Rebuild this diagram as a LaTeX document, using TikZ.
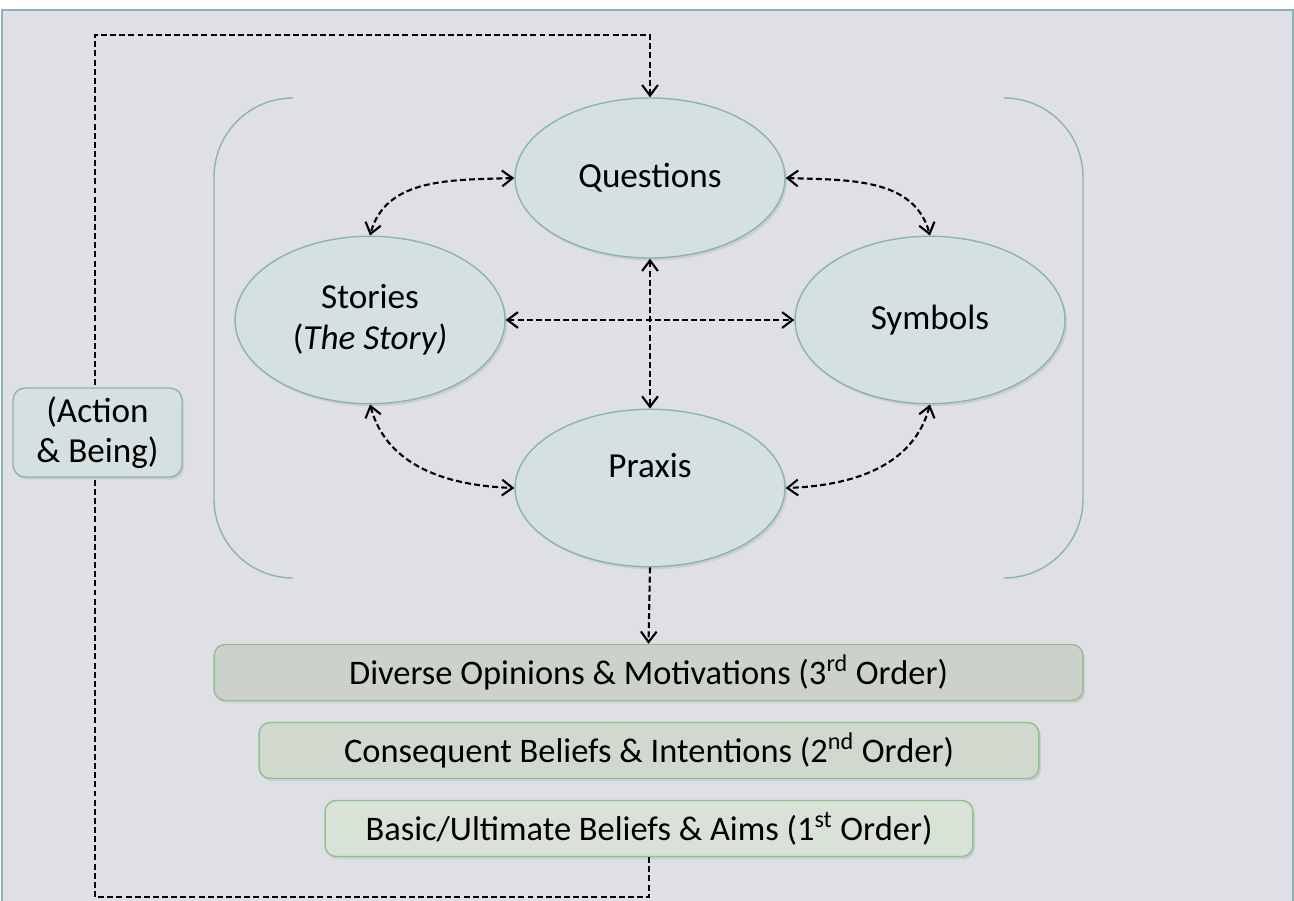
\documentclass[tikz,border=0pt]{standalone}
\usepackage{fontspec}
\setmainfont{Carlito}
\usetikzlibrary{shapes.geometric,arrows.meta,shadows}

\definecolor{bgcol}{HTML}{DFE0E5}
\definecolor{framecol}{HTML}{8AB4B3}
\definecolor{ovalfill}{HTML}{D5E0E0}
\definecolor{barline}{HTML}{8EC28C}
\definecolor{barthree}{HTML}{CCD2CB}
\definecolor{bartwo}{HTML}{D1D9CF}
\definecolor{barone}{HTML}{D8E2D7}

\tikzset{
  softshadow/.style={drop shadow={shadow xshift=1.2pt,shadow yshift=-1.5pt,opacity=0.18}},
  oval/.style={ellipse, draw=framecol, fill=ovalfill, line width=0.8pt,
    minimum width=5.4cm, align=center, inner sep=0pt, softshadow,
    font=\fontsize{20}{23.5}\selectfont},
  orderbar/.style={rectangle, rounded corners=0.22cm, draw=barline, line width=0.8pt,
    minimum height=1.12cm, inner sep=0pt, softshadow,
    font=\fontsize{19.6}{23}\selectfont},
  tagbox/.style={rectangle, rounded corners=0.24cm, draw=framecol, fill=ovalfill,
    line width=0.8pt, minimum width=3.38cm, minimum height=1.78cm, align=center,
    inner sep=0pt, softshadow, font=\fontsize{20}{23}\selectfont},
  link/.style={black, line width=1.2pt, dash pattern=on 3.4pt off 1.8pt,
    {Straight Barb[length=6pt,width=9pt]}-{Straight Barb[length=6pt,width=9pt]}},
  onelink/.style={black, line width=1.2pt, dash pattern=on 3.4pt off 1.8pt,
    -{Straight Barb[length=6pt,width=9pt]}},
  bracket/.style={draw=framecol, line width=0.8pt, rounded corners=1.58cm}
}

\begin{document}
\begin{tikzpicture}[x=0.02cm,y=-0.02cm]

   \useasboundingbox (0,0) rectangle (1294,900);
   \fill[white] (0,0) rectangle (1294,900);
   \filldraw[fill=bgcol, draw=framecol, line width=0.6pt] (2,10) rectangle (1293,902);

   % brackets round the four ovals
   \draw[bracket] (293,98) -- (214,98) -- (214,578) -- (293,578);
   \draw[bracket] (1004,98) -- (1083,98) -- (1083,578) -- (1004,578);

   % ovals
   \node[oval, minimum height=3.2cm] (q) at (650,178) {Questions};
   \node[oval, minimum height=3.35cm] (st) at (370,320) {Stories\\(\textit{The Story)}};
   \node[oval, minimum height=3.35cm] (sy) at (930,320) {Symbols};
   \node[oval, minimum height=3.15cm] (px) at (650,488) {\raisebox{0.9cm}{Praxis}};

   % orders
   \node[orderbar, fill=barthree, minimum width=17.38cm] (b3) at (648.5,672.5)
      {Diverse Opinions \& Motivations (3\textsuperscript{rd} Order)};
   \node[orderbar, fill=bartwo, minimum width=15.6cm] (b2) at (649,750.5)
      {Consequent Beliefs \& Intentions (2\textsuperscript{nd} Order)};
   \node[orderbar, fill=barone, minimum width=12.96cm] (b1) at (649,828.5)
      {Basic/Ultimate Beliefs \& Aims (1\textsuperscript{st} Order)};

   % links between the ovals
   \draw[link] (q.west) to[out=182,in=75] (st.north);
   \draw[link] (q.east) to[out=-2,in=105] (sy.north);
   \draw[link] (st.south) to[out=-75,in=178] (px.west);
   \draw[link] (sy.south) to[out=-105,in=2] (px.east);
   \draw[link] (st.east) -- (sy.west);
   \draw[link] (q.south) -- (px.north);
   \draw[onelink] (px.south) -- (b3.north);

   % feedback loop
   \coordinate (lpb) at (95,897);
   \coordinate (lpt) at (95,35);
   \draw[onelink] (b1.south) |- (lpb) -- (lpt) -| (q.north);

   \node[tagbox] (act) at (97.5,432.5) {(Action\\\& Being)};

\end{tikzpicture}
\end{document}
